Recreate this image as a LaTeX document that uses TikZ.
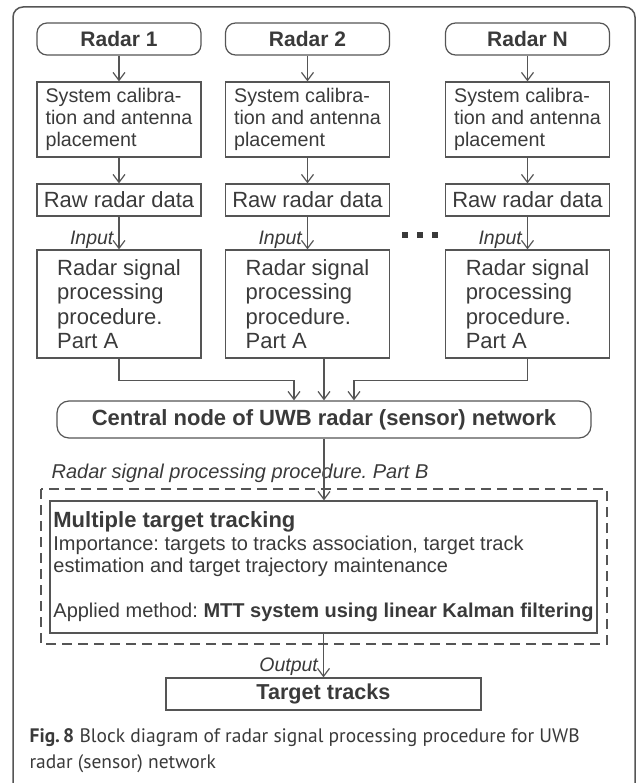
\documentclass[tikz,border=0pt]{standalone}
\usepackage{fontspec}
\setmainfont{Liberation Sans}
\newfontfamily\capfont{PT Sans}
\usetikzlibrary{arrows.meta, calc}
\frenchspacing

\definecolor{ink}{HTML}{3A3A3A}
\definecolor{edge}{HTML}{555555}

\begin{document}
\begin{tikzpicture}[
    x=1pt, y=-1pt,
    line width=1.2pt,
    text=ink,
    radar node/.style={
        draw=edge,
        rounded corners=10pt,
        minimum width=164pt,
        minimum height=32pt,
        inner sep=0pt,
        font=\fontsize{21}{24}\selectfont\bfseries
    },
    calib node/.style={
        draw=edge,
        minimum width=164pt,
        minimum height=75pt,
        inner sep=0pt,
        align=left,
        font=\fontsize{19.7}{21.7}\selectfont
    },
    raw node/.style={
        draw=edge,
        minimum width=164pt,
        minimum height=32pt,
        inner sep=0pt,
        font=\fontsize{22}{24}\selectfont
    },
    part node/.style={
        draw=edge,
        minimum width=164pt,
        minimum height=108pt,
        inner sep=0pt,
        align=left,
        font=\fontsize{22}{24.5}\selectfont
    },
    flow label/.style={
        inner sep=0pt,
        font=\fontsize{19.5}{22}\selectfont\itshape
    },
    flow/.style={
        draw=edge,
        -{Straight Barb[length=8pt, width=12pt]}
    }
]
    \useasboundingbox (0,0) rectangle (637,783);

    % --- outer frame (open at the bottom) ---
    \draw[edge, line width=1.5pt, rounded corners=10pt]
        (13,783) -- (13,7) -- (635,7) -- (635,783);

    % --- Radar 1 ---
    \node[radar node] (radar1) at (119,39) {Radar 1};
    \node[calib node] (calib1) at (119,119.5) {System calibra-\\tion and antenna\\placement};
    \node[raw node] (raw1) at (119,200) {Raw radar data};
    \node[part node] (partA1) at (119,304) {Radar signal\\processing\\procedure.\\Part A};

    % --- Radar 2 ---
    \node[radar node] (radar2) at (307.5,39) {Radar 2};
    \node[calib node] (calib2) at (307.5,119.5) {System calibra-\\tion and antenna\\placement};
    \node[raw node] (raw2) at (307.5,200) {Raw radar data};
    \node[part node] (partA2) at (307.5,304) {Radar signal\\processing\\procedure.\\Part A};

    % --- Radar N ---
    \node[radar node] (radarN) at (527.5,39) {Radar N};
    \node[calib node] (calibN) at (527.5,119.5) {System calibra-\\tion and antenna\\placement};
    \node[raw node] (rawN) at (527.5,200) {Raw radar data};
    \node[part node] (partAN) at (527.5,304) {Radar signal\\processing\\procedure.\\Part A};

    % dots between the columns
    \foreach \x in {404.5, 419.5, 435}
        \fill[ink] (\x-3,232) rectangle (\x+3,238);

    \draw[flow] (radar1) -- (calib1);
    \draw[flow] (calib1) -- (raw1);
    \draw[flow] (raw1) -- node[flow label, pos=0.7, left=5pt] (input1) {Input} (partA1);

    \draw[flow] (radar2) -- (calib2);
    \draw[flow] (calib2) -- (raw2);
    \draw[flow] (raw2) -- node[flow label, pos=0.7, left=5pt] (input2) {Input} (partA2);

    \draw[flow] (radarN) -- (calibN);
    \draw[flow] (calibN) -- (rawN);
    \draw[flow] (rawN) -- node[flow label, pos=0.7, left=5pt] (inputN) {Input} (partAN);

    % --- Central node ---
    \node[draw=edge, rounded corners=12pt, minimum width=534pt, minimum height=37pt,
          inner sep=0pt, font=\fontsize{22}{24}\selectfont\bfseries]
        (central) at (324,419.5) {Central node of UWB radar (sensor) network};

    \draw[flow] (partA1.south) |- ($(central.north)+(-30,-20)$) -- ($(central.north)+(-30,0)$);
    \draw[flow] (partA2.south -| central.north) -- (central.north);
    \draw[flow] (partAN.south) |- ($(central.north)+(30,-20)$) -- ($(central.north)+(30,0)$);

    % --- Part B ---
    \draw[edge, dash pattern=on 10pt off 6pt] (41,489) rectangle (607,644);
    \node[flow label, anchor=west, font=\fontsize{20}{22}\selectfont\itshape]
        (partBlabel) at (51,473) {Radar signal processing procedure. Part B};

    \node[draw=edge, minimum width=547pt, minimum height=132pt, inner sep=0pt,
          align=left, font=\fontsize{20}{22.5}\selectfont]
        (mtt) at (323.5,567)
        {{\fontsize{22}{22.5}\selectfont\bfseries Multiple target tracking}\\
         Importance: targets to tracks association, target track\\
         estimation and target trajectory maintenance\\[22.5pt]
         Applied method: \textbf{MTT system using linear Kalman filtering}};

    \draw[flow] (central.south) -- (central.south |- mtt.north);

    % --- Output ---
    \node[draw=edge, minimum width=315pt, minimum height=32pt, inner sep=0pt,
          font=\fontsize{21.6}{24}\selectfont\bfseries]
        (target) at (323.5,694) {Target tracks};

    \draw[flow] (mtt.south -| target.north) -- node[flow label, pos=0.75, left=5pt] (output) {Output} (target.north);

    % --- caption ---
    \node[anchor=base west, align=left, inner sep=0pt, font=\capfont\fontsize{19.5}{26}\selectfont]
        (caption) at (29,768)
        {\textbf{Fig.\,8} Block diagram of radar signal processing procedure for UWB\\
         radar (sensor) network};

\end{tikzpicture}
\end{document}
